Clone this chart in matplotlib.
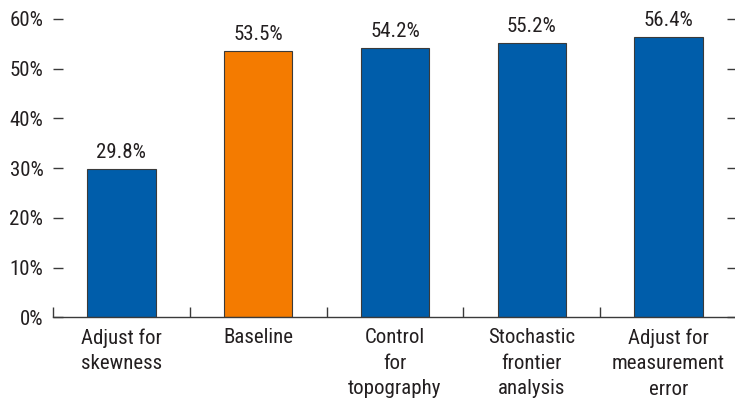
import matplotlib
matplotlib.use("Agg")
import matplotlib.pyplot as plt

categories = ["Adjust for\nskewness", "Baseline", "Control\nfor\ntopography",
              "Stochastic\nfrontier\nanalysis", "Adjust for\nmeasurement\nerror"]
values = [29.8, 53.5, 54.2, 55.2, 56.4]
bar_colors = ["#005DAA", "#F47B00", "#005DAA", "#005DAA", "#005DAA"]
y_ticks = [0, 10, 20, 30, 40, 50, 60]

plt.rcParams["font.family"] = ["Roboto Condensed", "DejaVu Sans"]
text_color = "#231F20"
line_color = "#3a3a3a"
fs = 15

fig = plt.figure(figsize=(7.35, 3.98), dpi=100)
ax = fig.add_axes([53 / 735, (398 - 317.3) / 398, 684 / 735, (317.3 - 19) / 398])

x = list(range(len(values)))
ax.bar(x, values, width=0.5, color=bar_colors, edgecolor=line_color, linewidth=0.8, zorder=2)

for xi, v in zip(x, values):
    ax.annotate(f"{v:.1f}%", (xi, v), xytext=(0, 5), textcoords="offset points",
                ha="center", va="bottom", fontsize=fs, color=text_color)

ax.set_xlim(-0.5, len(values) - 0.5)
ax.set_ylim(0, 60)

for s in ["top", "left", "right"]:
    ax.spines[s].set_visible(False)
ax.spines["bottom"].set_color(line_color)
ax.spines["bottom"].set_linewidth(1.0)

ax.set_yticks(y_ticks)
ax.set_yticklabels([f"{t}%" for t in y_ticks])
ax.tick_params(axis="y", direction="in", length=7, width=1.0, color=line_color,
               labelsize=fs, labelcolor=text_color, pad=7, right=True, left=True)

ax.set_xticks(x)
ax.set_xticklabels(categories, linespacing=1.42)
ax.tick_params(axis="x", which="major", length=0, labelsize=fs, labelcolor=text_color, pad=8)
ax.set_xticks([i - 0.5 for i in range(len(values) + 1)], minor=True)
ax.tick_params(axis="x", which="minor", direction="in", length=7, width=1.0, color=line_color)

fig.savefig("out.png", dpi=100)
